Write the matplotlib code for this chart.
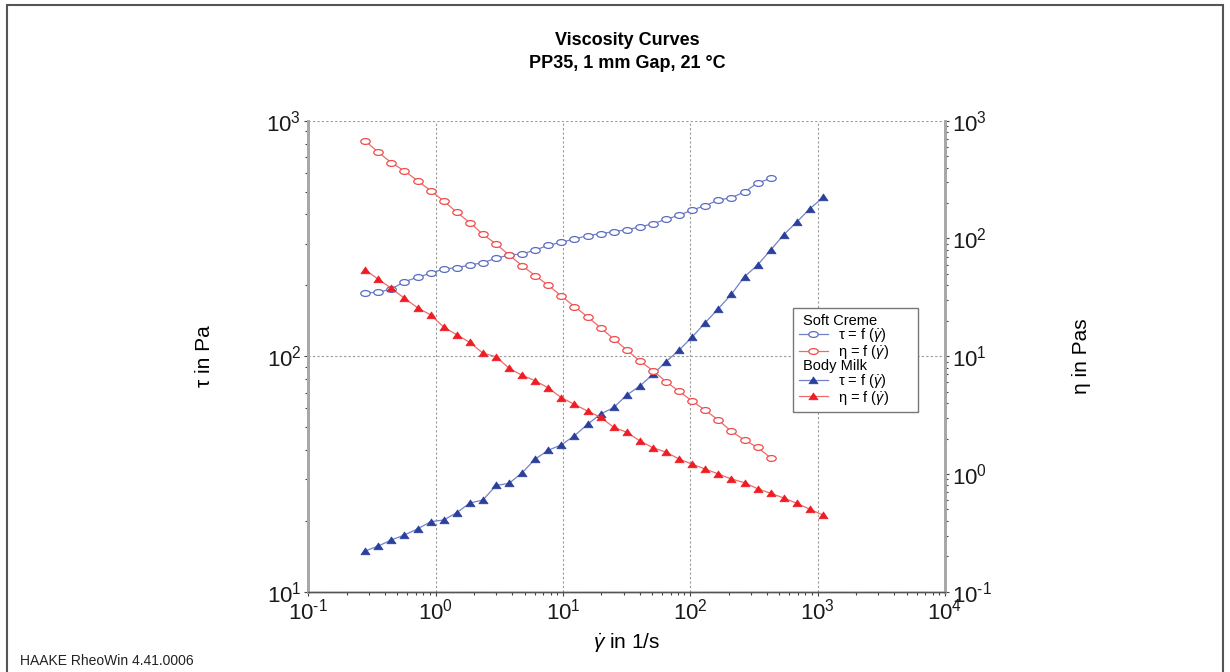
import matplotlib
matplotlib.use("Agg")
import numpy as np
import matplotlib.pyplot as plt
from matplotlib.lines import Line2D
from matplotlib.path import Path
from matplotlib.patches import Rectangle
from matplotlib.transforms import Affine2D
from matplotlib.ticker import FuncFormatter

plt.rcParams['font.family'] = ['Liberation Sans', 'DejaVu Sans']
plt.rcParams['mathtext.fontset'] = 'custom'
plt.rcParams['mathtext.rm'] = 'Liberation Sans'
plt.rcParams['mathtext.it'] = 'Liberation Sans:italic'

# shear rate grid (1/s), shared by both samples
shear_rate = [0.280, 0.355, 0.449, 0.569, 0.721, 0.914, 1.157, 1.466, 1.857,
              2.352, 2.980, 3.775, 4.782, 6.058, 7.674, 9.721, 12.31, 15.60,
              19.76, 25.03, 31.71, 40.17, 50.89, 64.46, 81.66, 103.4, 131.0,
              166.0, 210.3, 266.4, 337.5, 427.5, 541.6, 686.1, 869.1, 1101.0]

# Soft Creme (32 points)
creme_tau = [186.0, 186.7, 192.9, 207.2, 216.3, 224.9, 234.6, 237.6, 243.9,
             249.5, 260.5, 269.0, 271.6, 282.5, 295.8, 304.6, 314.6, 324.9,
             331.3, 337.9, 344.5, 353.7, 365.3, 381.4, 396.6, 417.7, 435.6,
             460.6, 471.0, 498.0, 543.8, 569.3]
creme_eta = [672.6, 539.0, 440.0, 374.0, 309.4, 254.4, 208.0, 166.8, 136.1,
             108.4, 89.7, 72.3, 58.7, 48.3, 40.0, 32.4, 26.4, 21.6, 17.4,
             14.0, 11.29, 9.10, 7.53, 6.07, 5.03, 4.16, 3.47, 2.87, 2.30,
             1.94, 1.68, 1.37]

# Body Milk (36 points)
milk_tau = [14.89, 15.64, 16.58, 17.41, 18.47, 19.83, 20.16, 21.66, 23.80,
            24.51, 28.25, 28.86, 32.01, 36.60, 39.88, 42.05, 45.96, 51.38,
            56.84, 60.56, 68.43, 74.72, 83.77, 94.76, 106.2, 120.6, 138.8,
            159.1, 183.4, 217.6, 243.9, 282.5, 328.1, 371.5, 423.0, 472.0]
milk_eta = [53.97, 45.0, 37.7, 31.0, 25.8, 22.4, 17.7, 15.2, 13.1, 10.6,
            9.90, 7.89, 6.88, 6.19, 5.37, 4.44, 3.90, 3.42, 3.03, 2.49, 2.26,
            1.91, 1.67, 1.53, 1.34, 1.21, 1.10, 1.00, 0.906, 0.843, 0.749,
            0.685, 0.625, 0.563, 0.501, 0.448]

blue_line = '#7282c8'
blue_mark = '#2b3f9c'
blue_open = '#5a6cc0'
red_line = '#f06a6a'
red_mark = '#ee1d24'
red_open = '#f04a4a'

ellipse = Path.unit_circle().transformed(Affine2D().scale(1.0, 0.62))
triangle = Path([(-1, -0.72), (1, -0.72), (0, 0.78), (-1, -0.72)],
                [Path.MOVETO, Path.LINETO, Path.LINETO, Path.CLOSEPOLY])


def pow10(v, pos):
    # plain hyphen in the exponent, like the instrument software
    e = int(round(np.log10(v)))
    return r'$\mathdefault{10^{\text{%s}}}$' % ('-%d' % -e if e < 0 else '%d' % e)


fig = plt.figure(figsize=(12.3, 6.72), dpi=100)
ax = fig.add_axes([308.3 / 1230, 1 - 591.7 / 672, 636.7 / 1230, 471 / 672])
ax2 = ax.twinx()

n_c = len(creme_tau)
n_m = len(milk_tau)

l1, = ax.plot(shear_rate[:n_c], creme_tau, color=blue_line, lw=0.9,
              marker=ellipse, ms=6.8, mfc='white', mec=blue_open, mew=0.9,
              label=r'τ = f ($\dot{\gamma}$)')
l2, = ax2.plot(shear_rate[:n_c], creme_eta, color=red_line, lw=0.9,
               marker=ellipse, ms=6.8, mfc='white', mec=red_open, mew=0.9,
               label=r'η = f ($\dot{\gamma}$)')
l3, = ax.plot(shear_rate[:n_m], milk_tau, color=blue_line, lw=0.9,
              marker=triangle, ms=6.6, mfc=blue_mark, mec=blue_mark, mew=0.5,
              label=r'τ = f ($\dot{\gamma}$)')
l4, = ax2.plot(shear_rate[:n_m], milk_eta, color=red_line, lw=0.9,
               marker=triangle, ms=6.6, mfc=red_mark, mec=red_mark, mew=0.5,
               label=r'η = f ($\dot{\gamma}$)')

ax.set_xscale('log')
ax.set_yscale('log')
ax2.set_yscale('log')
ax.set_xlim(0.1, 1e4)
ax.set_ylim(10, 1000)
ax2.set_ylim(0.1, 1000)
ax.xaxis.set_major_formatter(FuncFormatter(pow10))
ax.yaxis.set_major_formatter(FuncFormatter(pow10))
ax2.yaxis.set_major_formatter(FuncFormatter(pow10))

ax.grid(True, which='major', ls=(0, (2, 2)), color='#999999', lw=0.8)
ax.set_axisbelow(True)

for a in (ax, ax2):
    a.spines['top'].set_visible(False)
    a.spines['left'].set_color('#a8a8a8')
    a.spines['left'].set_linewidth(2)
    a.spines['right'].set_color('#a8a8a8')
    a.spines['right'].set_linewidth(2)
    a.spines['bottom'].set_color('#555555')
    a.spines['bottom'].set_linewidth(1)

for a in (ax, ax2):
    a.tick_params(which='both', direction='out', color='#444444',
                  labelsize=16, labelcolor='#1a1a1a', width=0.8)
    a.tick_params(which='major', length=3, pad=2)
    a.tick_params(which='minor', length=2)

ax.set_ylabel('τ in Pa', fontsize=15, labelpad=38)
ax2.set_ylabel('η in Pas', fontsize=15, labelpad=58)
ax.set_xlabel(r'$\dot{\gamma}$ in 1/s', fontsize=15, labelpad=5)

fig.text(627 / 1230, 1 - 52 / 672, 'Viscosity Curves\nPP35, 1 mm Gap, 21 °C',
         ha='center', va='center', fontsize=13, fontweight='bold',
         linespacing=1.4)
fig.text(20 / 1230, 1 - 661 / 672, 'HAAKE RheoWin 4.41.0006', fontsize=10,
         ha='left', va='center', color='#222222')

head1 = Line2D([], [], linestyle='none', marker='none', label='Soft Creme')
head2 = Line2D([], [], linestyle='none', marker='none', label='Body Milk')
leg_fs = 10.5
hl, hp = 2.0, 0.7
handles = [head1, l1, l2, head2, l3, l4]
leg = ax2.legend(handles, [h.get_label() for h in handles],
                 loc='upper left', bbox_to_anchor=(793 / 1230, 1 - 308 / 672),
                 bbox_transform=fig.transFigure, fontsize=leg_fs,
                 handlelength=hl, handletextpad=hp, labelspacing=-0.1,
                 borderpad=0.4, borderaxespad=0, fancybox=False,
                 edgecolor='#777777', framealpha=1)
leg.get_frame().set_linewidth(1)
shift = (hl + hp) * leg_fs * fig.dpi / 72 - 4
for t in (leg.get_texts()[0], leg.get_texts()[3]):
    t.set_x(-shift)

fig.patches.append(Rectangle((7 / 1230, -0.02), 1216 / 1230, 1 - 5 / 672 + 0.02,
                             transform=fig.transFigure, fill=False,
                             ec='#555555', lw=1.5))

fig.savefig('out.png', dpi=100)
